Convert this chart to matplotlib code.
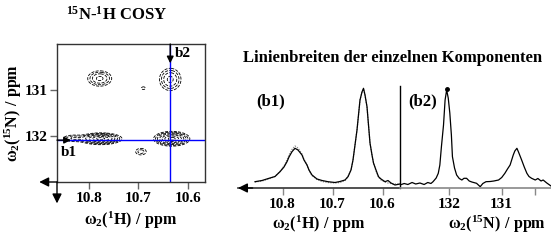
import matplotlib
matplotlib.use('Agg')
import matplotlib.pyplot as plt
import numpy as np

plt.rcParams['font.family'] = 'Liberation Serif'
plt.rcParams['font.weight'] = 'bold'
plt.rcParams['mathtext.fontset'] = 'custom'
plt.rcParams['mathtext.rm'] = 'Liberation Serif:bold'
plt.rcParams['mathtext.it'] = 'Liberation Serif:bold'
plt.rcParams['mathtext.bf'] = 'Liberation Serif:bold'
plt.rcParams['mathtext.default'] = 'bf'

W, H = 551, 240

# --- 2D 15N-1H COSY peak table ---
peak_h = [10.778, 10.636, 10.690, 10.776, 10.832, 10.633, 10.695]
peak_n = [130.75, 130.77, 130.96, 132.06, 132.05, 132.06, 132.34]
sigma_h = [0.0145, 0.013, 0.004, 0.020, 0.014, 0.017, 0.009]
sigma_n = [0.10, 0.145, 0.03, 0.06, 0.05, 0.075, 0.06]
amp = [1.0, 1.0, 0.4, 2.5, 0.6, 2.5, 0.5]
contour_levels = [0.25, 0.4, 0.6, 0.9, 1.3, 1.8, 2.3]
cut_h = 10.636   # b2 slice position
cut_n = 132.09   # b1 slice position

# --- 1D slices (b1: along 1H, b2: along 15N) ---
b1_ppm = [10.855, 10.841, 10.825, 10.815, 10.805, 10.797, 10.791, 10.787, 10.781,
          10.775, 10.769, 10.761, 10.757, 10.751, 10.747, 10.741, 10.731, 10.721,
          10.709, 10.695, 10.685, 10.675, 10.669, 10.663, 10.659, 10.655, 10.651,
          10.648, 10.645, 10.641, 10.638, 10.635, 10.631, 10.628, 10.625, 10.621,
          10.618, 10.613, 10.608, 10.603, 10.595, 10.589, 10.583, 10.575, 10.565]
b1_int = [6.3, 7.5, 10, 11.5, 16.3, 21, 26.3, 31, 36.3,
          39.7, 38, 33, 28, 23, 18, 13, 9, 7.5,
          6.3, 5.5, 6.5, 8, 11.3, 18, 28, 43, 58,
          73, 88, 96, 99.7, 93, 81.3, 63, 45, 33,
          25, 18, 11.3, 9, 6.3, 7.5, 5, 3, 4]
b1_fit = [6.0, 7.0, 9.5, 11.5, 16.5, 22, 28, 33, 38.5,
          42, 40, 34, 28.5, 23, 17.5, 12.5, 8.5, 6.5,
          5.5, 5.0, 5.5, 7.5, 11.5, 18, 28, 43, 58,
          73, 88, 96, 99.0, 93, 81, 63, 45, 33,
          25, 17, 11, 8, 6, 5, 4.5, 4, 4]

b2_ppm = [132.94, 132.86, 132.79, 132.71, 132.64, 132.56, 132.48, 132.41, 132.35,
          132.31, 132.25, 132.21, 132.18, 132.15, 132.11, 132.08, 132.05, 132.02,
          131.99, 131.96, 131.94, 131.90, 131.86, 131.81, 131.76, 131.72, 131.67,
          131.62, 131.57, 131.48, 131.41, 131.36, 131.30, 131.22, 131.15, 131.06,
          131.00, 130.94, 130.89, 130.84, 130.78, 130.75, 130.71, 130.68, 130.62,
          130.57, 130.52, 130.48, 130.43, 130.36, 130.31, 130.25, 130.21, 130.14,
          130.06]
b2_int = [3, 4.5, 3.5, 5.5, 4, 5, 3.5, 5.5, 4.5,
          6.3, 10, 14.7, 23, 41.3, 63, 88, 98, 90,
          75, 53, 31.3, 20, 13, 9.5, 8, 9.7, 9.7,
          7, 6, 4.7, 1.3, 4.5, 6.3, 6.5, 7, 8,
          10.5, 14.7, 19, 23, 33, 37, 39.7, 36, 28,
          21, 14.7, 11.5, 9.7, 8, 9.5, 7, 8, 5,
          2]

lab_h = r'$\omega_2(^{1}H)\ /\ ppm$'
lab_n = r'$\omega_2(^{15}N)\ /\ ppm$'

fig = plt.figure(figsize=(W / 100, H / 100), dpi=100)


def px_axes(x0, y0, x1, y1):
    return fig.add_axes([x0 / W, 1 - y1 / H, (x1 - x0) / W, (y1 - y0) / H])


def big_arrow(a, tip, tail, scale=14):
    a.annotate('', xy=tip, xytext=tail, xycoords='axes fraction',
               arrowprops=dict(arrowstyle='-|>', color='black', lw=1,
                               mutation_scale=scale, shrinkA=0, shrinkB=0),
               annotation_clip=False)


# ================= 2D contour panel =================
ax = px_axes(57, 44, 205, 182)
hh = np.linspace(10.566, 10.864, 300)
nn = np.linspace(130.0, 133.0, 300)
HH, NN = np.meshgrid(hh, nn)
field = np.zeros_like(HH)
for h0, n0, sh, sn, a in zip(peak_h, peak_n, sigma_h, sigma_n, amp):
    field += a * np.exp(-0.5 * (((HH - h0) / sh) ** 2 + ((NN - n0) / sn) ** 2))
ax.contour(HH, NN, field, levels=contour_levels, colors='black',
           linewidths=0.6, linestyles='dashed')
ax.axvline(cut_h, color='#0000ff', lw=1.0)
ax.axhline(cut_n, color='#0000ff', lw=1.0)
ax.set_xlim(10.864, 10.566)
ax.set_ylim(133.0, 130.0)
ax.set_xticks([10.8, 10.7, 10.6])
ax.set_xticklabels(['10.8', '10.7', '10.6'])
ax.set_yticks([131, 132])
ax.tick_params(axis='both', direction='out', length=5, width=1, labelsize=11,
               color='#666666', pad=2)
for s in ax.spines.values():
    s.set_linewidth(1.0)
    s.set_color('#333333')
ax.set_xlabel(lab_h, fontsize=11.5)
ax.xaxis.set_label_coords(0.5, -0.2)
ax.set_ylabel(lab_n, fontsize=11.5)
ax.yaxis.set_label_coords(-0.225, 0.5)

# slice markers b1 / b2
ax.annotate('', xy=(10.836, cut_n), xytext=(10.864, cut_n),
            arrowprops=dict(arrowstyle='-|>', color='black', lw=1, mutation_scale=10,
                            shrinkA=0, shrinkB=0))
ax.annotate('', xy=(cut_h, 130.42), xytext=(cut_h, 130.0),
            arrowprops=dict(arrowstyle='-|>', color='black', lw=1, mutation_scale=10,
                            shrinkA=0, shrinkB=0))
ax.text(10.856, 132.36, 'b1', fontsize=11, ha='left', va='center')
ax.text(10.626, 130.2, 'b2', fontsize=11, ha='left', va='center')

# dimension arrows outside the frame
big_arrow(ax, (-0.12, 0), (0, 0))
big_arrow(ax, (0, -0.155), (0, 0))

fig.text(117 / W, 1 - 15 / H, r'$^{15}N$-$^{1}H$ COSY', fontsize=12,
         ha='center', va='center')

# ================= 1D slices =================
fig.text(393 / W, 1 - 58 / H, 'Linienbreiten der einzelnen Komponenten',
         fontsize=12, ha='center', va='center')

axh = px_axes(238, 86, 400, 188)
axh.plot(b1_ppm, b1_fit, color='#888888', lw=0.9, ls=(0, (1, 1)))
axh.plot(b1_ppm, b1_int, color='black', lw=0.9)
axh.set_xlim(10.889, 10.565)
axh.set_ylim(0, 102)
axh.set_xticks([10.8, 10.7, 10.6])
axh.set_xticklabels(['10.8', '10.7', '10.6'])
axh.set_yticks([])
for k in ('left', 'right', 'top'):
    axh.spines[k].set_visible(False)
axh.spines['bottom'].set_color('#333333')
axh.spines['bottom'].set_linewidth(1.2)
axh.tick_params(axis='x', direction='out', length=5, width=1, labelsize=11,
                color='#888888', pad=2)
axh.set_xlabel(lab_h, fontsize=11.5)
axh.xaxis.set_label_coords(0.5, -0.25)
axh.text(0.2, 0.85, '(b1)', transform=axh.transAxes, fontsize=12,
         ha='center', va='center')
big_arrow(axh, (0, 0), (0.09, 0))

axn = px_axes(400, 86, 551, 188)
axn.plot(b2_ppm, b2_int, color='black', lw=0.9)
axn.plot([b2_ppm[16]], [b2_int[16] + 1.5], 'o', color='black', ms=2.5)
axn.set_xlim(132.94, 130.06)
axn.set_ylim(0, 102)
axn.set_xticks([132, 131, 130.36])
axn.set_xticklabels(['132', '131', ''])
axn.set_yticks([])
for k in ('right', 'top'):
    axn.spines[k].set_visible(False)
axn.spines['left'].set_color('black')
axn.spines['left'].set_linewidth(1.0)
axn.spines['bottom'].set_color('#888888')
axn.spines['bottom'].set_linewidth(1.2)
axn.tick_params(axis='x', direction='out', length=5, width=1, labelsize=11,
                color='#888888', pad=2)
axn.set_xlabel(lab_n, fontsize=11.5)
axn.xaxis.set_label_coords(0.64, -0.25)
axn.text(0.15, 0.85, '(b2)', transform=axn.transAxes, fontsize=12,
         ha='center', va='center')

fig.savefig('out.png', dpi=100)
